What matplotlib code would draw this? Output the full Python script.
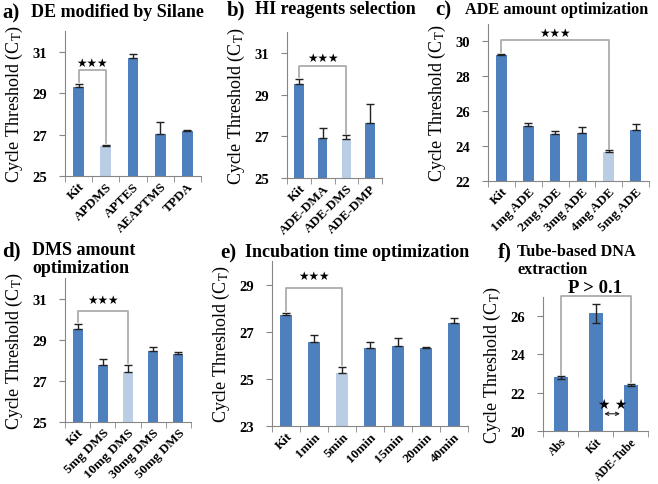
import matplotlib
matplotlib.use("Agg")
import matplotlib.pyplot as plt
import numpy as np

plt.rcParams["font.family"] = ["Liberation Serif", "DejaVu Sans"]
plt.rcParams["mathtext.fontset"] = "stix"

DARK = "#4F80BE"
LIGHT = "#B9CDE5"
GRAY = "#A6A6A6"
SERIF = "Liberation Serif"
STAR = "DejaVu Sans"

# ---- data ----
a_labels = ["Kit", "APDMS", "APTES", "AEAPTMS", "TPDA"]
a_values = [29.3, 26.45, 30.72, 27.05, 27.15]
a_err = [0.15, 0.07, 0.15, 0.55, 0.07]

b_labels = ["Kit", "ADE-DMA", "ADE-DMS", "ADE-DMP"]
b_values = [29.5, 26.9, 26.85, 27.65]
b_err = [0.25, 0.5, 0.2, 0.9]

c_labels = ["Kit", "1mg ADE", "2mg ADE", "3mg ADE", "4mg ADE", "5mg ADE"]
c_values = [29.25, 25.15, 24.7, 24.75, 23.65, 24.95]
c_err = [0.03, 0.2, 0.15, 0.35, 0.1, 0.3]

d_labels = ["Kit", "5mg DMS", "10mg DMS", "30mg DMS", "50mg DMS"]
d_values = [29.5, 27.75, 27.45, 28.45, 28.3]
d_err = [0.25, 0.3, 0.3, 0.2, 0.1]

e_labels = ["Kit", "1min", "5min", "10min", "15min", "20min", "40min"]
e_values = [27.7, 26.55, 25.25, 26.3, 26.4, 26.3, 27.35]
e_err = [0.1, 0.3, 0.25, 0.25, 0.35, 0.07, 0.25]

f_labels = ["Abs", "Kit", "ADE-Tube"]
f_values = [22.8, 26.15, 22.4]
f_err = [0.08, 0.5, 0.07]

W, H = 658, 485
fig = plt.figure(figsize=(W / 100, H / 100), dpi=100)


def px_axes(left, right, top, bottom):
    return fig.add_axes([left / W, 1 - bottom / H, (right - left) / W, (bottom - top) / H])


def draw_panel(ax, labels, values, err, light_idx, ylim, yticks, sym_err=False, xfs=9.5):
    n = len(labels)
    x = np.arange(n)
    colors = [LIGHT if i == light_idx else DARK for i in range(n)]
    ax.bar(x, values, width=0.4, color=colors, zorder=2)
    if sym_err:
        yerr = err
    else:
        yerr = [np.zeros(n), err]
    ax.errorbar(x, values, yerr=yerr, fmt="none", ecolor="#222222", elinewidth=1.0,
                capsize=3, capthick=1.0, zorder=3)
    ax.set_xlim(-0.5, n - 0.5)
    ax.set_ylim(*ylim)
    ax.set_yticks(yticks)
    ax.set_yticklabels([str(t) for t in yticks], fontsize=10.5, fontweight="bold", family=SERIF)
    ax.set_xticks(x)
    ax.set_xticklabels(labels, rotation=45, ha="right", rotation_mode="anchor",
                       fontsize=xfs, fontweight="bold", family=SERIF)
    ax.set_xticks(np.arange(-0.5, n, 1.0), minor=True)
    ax.tick_params(axis="x", which="major", length=0, pad=3)
    ax.tick_params(axis="x", which="minor", length=4, color="#868686")
    ax.tick_params(axis="y", length=4, color="#868686", pad=9)
    for s in ["top", "right"]:
        ax.spines[s].set_visible(False)
    for s in ["left", "bottom"]:
        ax.spines[s].set_color("#868686")
    ax.set_ylabel("Cycle Threshold (C$_\\mathrm{T}$)", fontsize=13, family=SERIF, labelpad=5)


def bracket(ax, x0, x1, y0, y1, ytop, text, ytext, fs=8.5, family=STAR):
    ax.plot([x0, x0, x1, x1], [y0, ytop, ytop, y1], color=GRAY, lw=1.2, clip_on=False, zorder=4)
    ax.text((x0 + x1) / 2, ytext, text, ha="center", va="center", fontsize=fs,
            family=family, fontweight="bold", clip_on=False)


def title(xl, xt, yb, letter, lines, fs=13):
    fig.text(xl / W, 1 - yb / H, letter, fontsize=15, fontweight="bold", va="baseline",
             family=SERIF)
    for i, line in enumerate(lines):
        fig.text(xt / W, 1 - (yb - 1 + 18 * i) / H, line, fontsize=fs, fontweight="bold",
                 va="baseline", family=SERIF)


ax = px_axes(65, 201, 32, 177)
draw_panel(ax, a_labels, a_values, a_err, 1, (25, 32), [25, 27, 29, 31])
bracket(ax, 0, 1, 29.55, 26.6, 30.13, "★★★", 30.5)
title(2, 31, 18, "a)", ["DE modified by Silane"])

ax = px_axes(287, 382, 33, 179)
draw_panel(ax, b_labels, b_values, b_err, 2, (25, 32), [25, 27, 29, 31])
bracket(ax, 0, 2, 29.85, 27.1, 30.35, "★★★", 30.8)
title(227, 255, 15, "b)", ["HI reagents selection"])

ax = px_axes(488, 649, 25, 182)
draw_panel(ax, c_labels, c_values, c_err, 4, (22, 31), [22, 24, 26, 28, 30])
bracket(ax, 0, 4, 29.4, 23.85, 30.1, "★★★", 30.5)
title(435, 465, 15, "c)", ["ADE amount optimization"], fs=11.7)

ax = px_axes(65, 191, 279, 423)
draw_panel(ax, d_labels, d_values, d_err, 2, (25, 32), [25, 27, 29, 31])
bracket(ax, 0, 2, 29.85, 27.85, 30.4, "★★★", 30.95)
title(2, 32, 256, "d)", ["DMS amount", "optimization"])

ax = px_axes(272, 468, 262, 427)
draw_panel(ax, e_labels, e_values, e_err, 2, (23, 30), [23, 25, 27, 29])
bracket(ax, 0, 2, 27.9, 25.6, 28.85, "★★★", 29.4)
title(220, 245, 258, "e)", ["Incubation time optimization"])

ax = px_axes(543, 648, 298, 432)
draw_panel(ax, f_labels, f_values, f_err, -1, (20, 27), [20, 22, 24, 26], sym_err=True, xfs=8.5)
bracket(ax, 0, 2, 22.95, 22.55, 27.05, "P > 0.1", 27.5, fs=13.5, family=SERIF)
ax.text(1.5, 21.4, "★ ★", ha="center", va="center", fontsize=10, family=STAR)
ax.annotate("", xy=(1.25, 20.9), xytext=(1.7, 20.9),
            arrowprops=dict(arrowstyle="<->", lw=0.8, color="#222222",
                            shrinkA=0, shrinkB=0, mutation_scale=6))
title(498, 517, 257, "f)", ["Tube-based DNA", "extraction"], fs=11.7)

fig.savefig("out.png", dpi=100)
